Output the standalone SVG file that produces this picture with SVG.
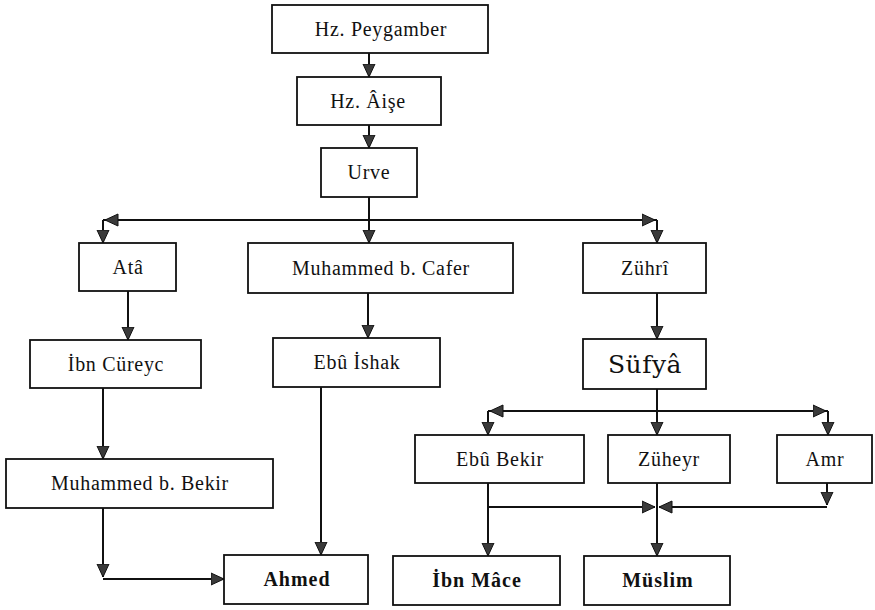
<svg xmlns="http://www.w3.org/2000/svg" width="875" height="610" viewBox="0 0 875 610">
<style>
.box{fill:#fff;stroke:#111;stroke-width:1.8}
.t{font-family:"Liberation Serif","Times New Roman",serif;font-size:20px;letter-spacing:0.7px;fill:#111;text-anchor:middle}
.b{font-weight:bold;letter-spacing:1px}
.s{font-family:"DejaVu Serif",serif;font-size:25px;letter-spacing:0.5px}
.c{fill:none;stroke:#111;stroke-width:2}
.a{marker-end:url(#ah)}
</style>
<defs>
<marker id="ah" viewBox="0 0 14 14" refX="13.5" refY="7" markerWidth="14" markerHeight="14" markerUnits="userSpaceOnUse" orient="auto">
<path d="M0.5,1 L13.5,7 L0.5,13 z" fill="#3a3a3a" stroke="#111" stroke-width="1"/>
</marker>
</defs>
<g id="connectors">
<path class="c a" d="M369,53 V77"/>
<path class="c a" d="M369,125 V148"/>
<path class="c a" d="M369,197 V243"/>
<path class="c a" d="M369,220 H105"/>
<path class="c" d="M105,220 H103"/>
<path class="c a" d="M103,220 V243"/>
<path class="c a" d="M369,220 H655"/>
<path class="c" d="M655,220 H657"/>
<path class="c a" d="M657,220 V243"/>
<path class="c a" d="M128,291 V340"/>
<path class="c a" d="M368,293 V338"/>
<path class="c a" d="M657,293 V339"/>
<path class="c a" d="M103,388 V459"/>
<path class="c a" d="M103,508 V577"/>
<path class="c a" d="M103,579 H224"/>
<path class="c a" d="M321,387 V555"/>
<path class="c a" d="M657,389 V435"/>
<path class="c a" d="M657,411 H490"/>
<path class="c" d="M490,411 H488"/>
<path class="c a" d="M488,411 V435"/>
<path class="c a" d="M657,411 H826"/>
<path class="c" d="M826,411 H828"/>
<path class="c a" d="M828,411 V435"/>
<path class="c a" d="M488,483 V556"/>
<path class="c a" d="M488,507 H655"/>
<path class="c a" d="M827,483 V505"/>
<path class="c a" d="M827,507 H659"/>
<path class="c a" d="M657,483 V556"/>
</g>
<g id="peygamber"><rect class="box" x="272" y="5" width="216" height="48"/><text class="t" x="381" y="36">Hz. Peygamber</text></g>
<g id="aise"><rect class="box" x="297" y="77" width="144" height="48"/><text class="t" x="368" y="108">Hz. Âişe</text></g>
<g id="urve"><rect class="box" x="321" y="148" width="96" height="49"/><text class="t" x="369" y="179">Urve</text></g>
<g id="ata"><rect class="box" x="79" y="243" width="97" height="48"/><text class="t" x="128" y="274">Atâ</text></g>
<g id="muhammed-cafer"><rect class="box" x="248" y="243" width="265" height="50"/><text class="t" x="381" y="275">Muhammed b. Cafer</text></g>
<g id="zuhri"><rect class="box" x="583" y="243" width="123" height="50"/><text class="t" x="645" y="275">Zührî</text></g>
<g id="ibn-cureyc"><rect class="box" x="30" y="340" width="171" height="48"/><text class="t" x="116" y="371">İbn Cüreyc</text></g>
<g id="ebu-ishak"><rect class="box" x="273" y="338" width="167" height="49"/><text class="t" x="357" y="369">Ebû İshak</text></g>
<g id="sufya"><rect class="box" x="583" y="339" width="123" height="50"/><text class="t s" x="645" y="373">Süfyâ</text></g>
<g id="ebu-bekir"><rect class="box" x="415" y="435" width="169" height="48"/><text class="t" x="500" y="466">Ebû Bekir</text></g>
<g id="zuheyr"><rect class="box" x="608" y="435" width="122" height="48"/><text class="t" x="669" y="466">Züheyr</text></g>
<g id="amr"><rect class="box" x="777" y="435" width="95" height="48"/><text class="t" x="825" y="466">Amr</text></g>
<g id="muhammed-bekir"><rect class="box" x="6" y="459" width="267" height="49"/><text class="t" x="140" y="490">Muhammed b. Bekir</text></g>
<g id="ahmed"><rect class="box" x="224" y="555" width="144" height="49"/><text class="t b" x="297" y="586">Ahmed</text></g>
<g id="ibn-mace"><rect class="box" x="393" y="556" width="167" height="49"/><text class="t b" x="477" y="587">İbn Mâce</text></g>
<g id="muslim"><rect class="box" x="584" y="556" width="146" height="49"/><text class="t b" x="658" y="587">Müslim</text></g>
</svg>
